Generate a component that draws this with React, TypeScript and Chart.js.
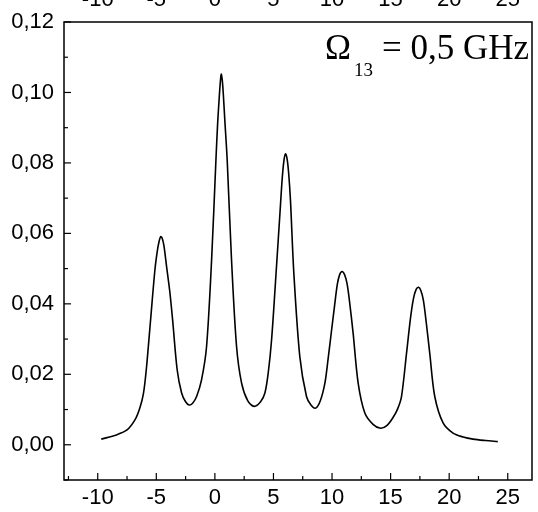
import React, { useEffect, useRef } from 'react';
import { Chart, registerables } from 'chart.js';

Chart.register(...registerables);

// Detuning (x) and signal (y)
const detuning = [
  -9.7, -8.4, -7.5, -6.8, -6.4, -6.1, -5.85, -5.5, -5.12, -4.9, -4.75, -4.63, -4.5,
  -4.35, -4.12, -3.85, -3.61, -3.22, -2.84, -2.5, -2.2, -1.9, -1.56, -1.14, -0.71, -0.28,
  0.09, 0.24, 0.37, 0.46, 0.54, 0.63, 0.72, 0.85, 1.05, 1.42, 1.85, 2.28, 2.8, 3.35,
  3.9, 4.27, 4.55, 4.84, 5.26, 5.55, 5.75, 5.9, 6.03, 6.16, 6.3, 6.45, 6.74, 7.25,
  7.82, 8.2, 8.6, 9.0, 9.39, 9.67, 9.96, 10.2, 10.45, 10.65, 10.86, 11.07, 11.28,
  11.5, 11.8, 12.23, 12.8, 13.5, 14.14, 14.7, 15.22, 15.6, 15.93, 16.36, 16.7, 16.95,
  17.18, 17.38, 17.58, 17.8, 18.05, 18.34, 18.77, 19.48, 20.33, 21.2, 22.04, 23.1,
  24.15,
];
const signal = [
  0.0016, 0.0028, 0.0042, 0.0072, 0.0105, 0.0145, 0.0215, 0.035, 0.0496, 0.0553,
  0.0579, 0.0591, 0.0586, 0.0565, 0.0505, 0.0435, 0.0355, 0.0213, 0.0147, 0.0122, 0.0113,
  0.0118, 0.0137, 0.0184, 0.0279, 0.0525, 0.0809, 0.0915, 0.0985, 0.1028, 0.1052,
  0.1035, 0.0995, 0.092, 0.0809, 0.0525, 0.0279, 0.0175, 0.0125, 0.0109, 0.0122,
  0.0147, 0.0203, 0.0298, 0.0506, 0.0655, 0.0757, 0.0808, 0.0826, 0.0812, 0.077,
  0.0695, 0.0487, 0.025, 0.0137, 0.0113, 0.0104, 0.0125, 0.0175, 0.0245, 0.0325,
  0.039, 0.0455, 0.0483, 0.0492, 0.0483, 0.0458, 0.0405, 0.0317, 0.0175, 0.009,
  0.0058, 0.0047, 0.0055, 0.0078, 0.0102, 0.0137, 0.026, 0.036, 0.0415, 0.0441,
  0.0447, 0.0438, 0.041, 0.0345, 0.026, 0.0137, 0.0062, 0.0033, 0.0022, 0.0016,
  0.0012, 0.0009,
];

const xMin = -12.88;
const xMax = 27.07;
const xStep = 5;
const yMin = -0.01;
const yMax = 0.12;
const yStep = 0.02;

const annotationSymbol = 'Ω';
const annotationSub = '13';
const annotationRest = '= 0,5 GHz';

const OFFSET = 20; // canvas extends above the page so top labels are clipped
const W = 538;
const H = 512 + OFFSET;

const sansFont = 'Liberation Sans, Arial, sans-serif';
const serifFont = 'Liberation Serif, Times New Roman, serif';

const framePlugin = {
  id: 'framePlugin',
  afterDraw(chart: any) {
    const { ctx, chartArea: a, scales } = chart;
    ctx.save();
    ctx.strokeStyle = '#000';
    ctx.lineWidth = 1.5;
    ctx.strokeRect(a.left, a.top, a.right - a.left, a.bottom - a.top);

    ctx.lineWidth = 1.2;
    const ys = scales.y;
    const ticksY = ys.ticks.map((t: any) => t.value);
    ticksY.forEach((v: number) => {
      const p = ys.getPixelForValue(v);
      ctx.beginPath();
      ctx.moveTo(a.left, p);
      ctx.lineTo(a.left + 7, p);
      ctx.stroke();
    });
    if (ticksY.length) {
      for (let v = ticksY[0] - yStep / 2; v <= yMax + 1e-9; v += yStep) {
        if (v < yMin - 1e-9) continue;
        const p = ys.getPixelForValue(v);
        ctx.beginPath();
        ctx.moveTo(a.left, p);
        ctx.lineTo(a.left + 4, p);
        ctx.stroke();
      }
    }
    const xs = scales.x;
    const ticksX = xs.ticks.map((t: any) => t.value);
    ticksX.forEach((v: number) => {
      const p = xs.getPixelForValue(v);
      ctx.beginPath();
      ctx.moveTo(p, a.bottom);
      ctx.lineTo(p, a.bottom - 7);
      ctx.stroke();
    });
    if (ticksX.length) {
      for (let v = ticksX[0] - xStep / 2; v <= xMax; v += xStep) {
        if (v < xMin) continue;
        const p = xs.getPixelForValue(v);
        ctx.beginPath();
        ctx.moveTo(p, a.bottom);
        ctx.lineTo(p, a.bottom - 4);
        ctx.stroke();
      }
    }

    ctx.fillStyle = '#000';
    ctx.textBaseline = 'alphabetic';
    ctx.textAlign = 'left';
    ctx.font = `35px ${serifFont}`;
    ctx.fillText(annotationSymbol, 325, 59 + OFFSET);
    ctx.font = `19px ${serifFont}`;
    ctx.fillText(annotationSub, 354, 76 + OFFSET);
    ctx.font = `35px ${serifFont}`;
    ctx.fillText(annotationRest, 382, 59 + OFFSET);
    ctx.restore();
  },
};

export default function App() {
  const ref = useRef<HTMLCanvasElement | null>(null);

  useEffect(() => {
    if (!ref.current) return;
    const points = detuning.map((x, i) => ({ x, y: signal[i] }));
    const tickFont = { family: sansFont, size: 22 };
    const chart = new Chart(ref.current, {
      type: 'line',
      data: {
        datasets: [
          {
            data: points,
            borderColor: '#000',
            borderWidth: 1.6,
            pointRadius: 0,
            fill: false,
            tension: 0.3,
          },
        ],
      },
      options: {
        animation: false,
        responsive: false,
        devicePixelRatio: 1,
        layout: { padding: { top: 0, left: 0, right: W - 532, bottom: 0 } },
        plugins: { legend: { display: false }, tooltip: { enabled: false } },
        scales: {
          x: {
            type: 'linear',
            position: 'bottom',
            min: xMin,
            max: xMax,
            grid: { display: false, drawTicks: false },
            border: { display: false },
            ticks: {
              stepSize: xStep,
              includeBounds: false,
              color: '#000',
              font: tickFont,
              padding: 5,
              maxRotation: 0,
              autoSkip: false,
              callback: (v: any) => String(v),
            },
            afterFit: (s: any) => {
              s.height = 32;
            },
          },
          x2: {
            type: 'linear',
            position: 'top',
            min: xMin,
            max: xMax,
            grid: { display: false, drawTicks: false },
            border: { display: false },
            ticks: {
              stepSize: xStep,
              includeBounds: false,
              color: '#000',
              font: tickFont,
              padding: 9,
              maxRotation: 0,
              autoSkip: false,
              callback: (v: any) => String(v),
            },
            afterFit: (s: any) => {
              s.height = 22 + OFFSET;
            },
          },
          y: {
            type: 'linear',
            position: 'left',
            min: yMin,
            max: yMax,
            grid: { display: false, drawTicks: false },
            border: { display: false },
            ticks: {
              stepSize: yStep,
              includeBounds: false,
              color: '#000',
              font: tickFont,
              padding: 10,
              autoSkip: false,
              callback: (v: any) => Number(v).toFixed(2).replace('.', ','),
            },
            afterFit: (s: any) => {
              s.width = 64;
            },
          },
        },
      },
      plugins: [framePlugin],
    });
    return () => chart.destroy();
  }, []);

  return (
    <div style={{ position: 'absolute', left: 0, top: -OFFSET, width: W, height: H }}>
      <canvas ref={ref} width={W} height={H} style={{ display: 'block', width: W, height: H }} />
    </div>
  );
}
